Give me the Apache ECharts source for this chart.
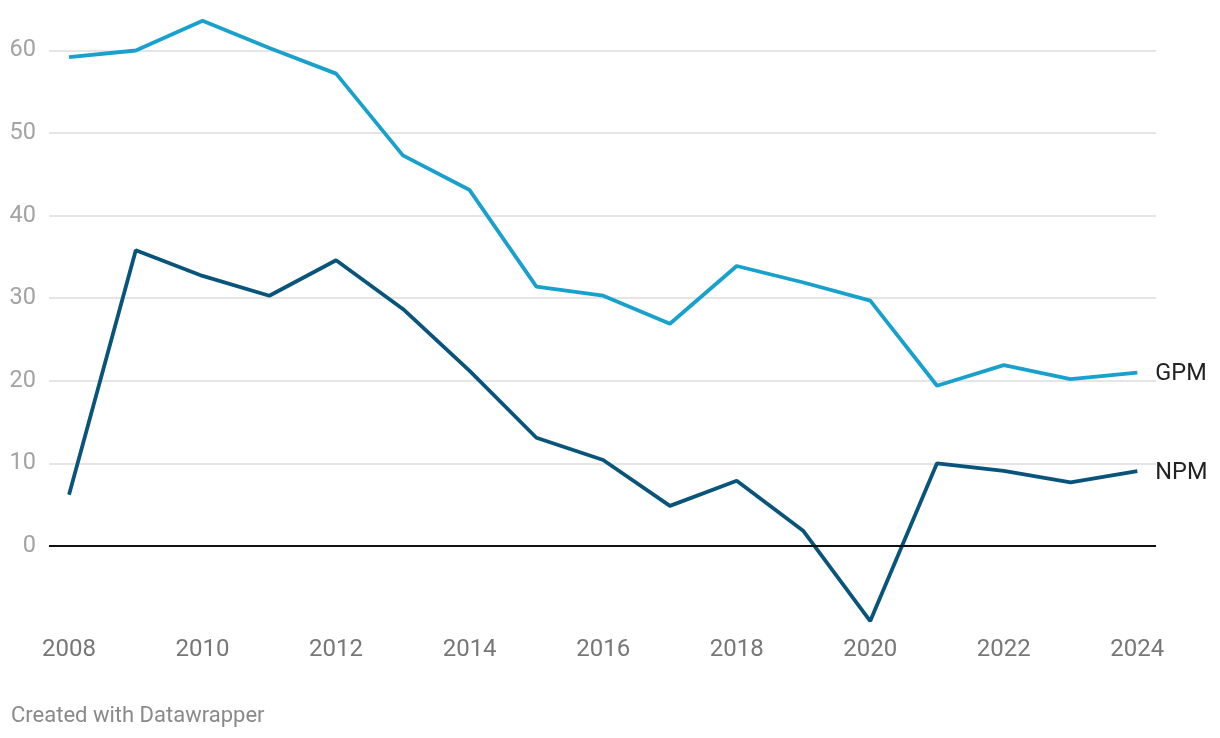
<!DOCTYPE html>
<html>
<head>
<meta charset="utf-8">
<script src="https://cdn.jsdelivr.net/npm/echarts@6/dist/echarts.min.js"></script>
<style>
html,body{margin:0;padding:0;background:#fff;}
#c{width:1220px;height:738px;}
#foot{position:absolute;left:11px;top:702px;font-family:Roboto,sans-serif;font-size:22px;color:#8a8a8a;}
</style>
</head>
<body>
<div id="c"></div>
<div id="foot">Created with Datawrapper</div>
<script>
const years = [2008,2009,2010,2011,2012,2013,2014,2015,2016,2017,2018,2019,2020,2021,2022,2023,2024];
const gpm = [59.2,60.0,63.6,60.3,57.2,47.3,43.1,31.4,30.3,26.9,33.9,31.9,29.7,19.4,21.9,20.2,21.0];
const npm = [6.2,35.8,32.7,30.3,34.6,28.7,21.2,13.1,10.4,4.85,7.9,1.8,-9.1,10.0,9.1,7.7,9.05];
const xTickLabels = [2008,2010,2012,2014,2016,2018,2020,2022,2024];
const yTickLabels = [0,10,20,30,40,50,60];

const chart = echarts.init(document.getElementById('c'), null, {renderer:'canvas'});
const pair = (arr) => years.map((y,i)=>[y,arr[i]]);
chart.setOption({
  animation:false,
  grid:{left:49,right:64,top:50.5,bottom:738-628.5,containLabel:false},
  xAxis:{
    type:'value',min:2007.7,max:2024.28,
    axisLine:{show:false},axisTick:{show:false},splitLine:{show:false},
    axisLabel:{customValues:xTickLabels,formatter:v=>String(v),color:'#777',fontFamily:'Roboto',fontSize:24,margin:9}
  },
  yAxis:{
    type:'value',min:-10,max:60,interval:10,
    axisLine:{show:false},axisTick:{show:false},
    axisLabel:{formatter:v=>yTickLabels.includes(v)?String(v):'',color:'#a3a3a3',fontFamily:'Roboto',fontSize:23.5,margin:13},
    splitLine:{show:true,lineStyle:{color:'#e5e5e5',width:2},
      showMinLine:false}
  },
  series:[
    {name:'GPM',type:'line',data:pair(gpm),symbol:'none',clip:false,
      lineStyle:{color:'#18a1cd',width:3.8},
      endLabel:{show:true,formatter:'GPM',color:'#222',fontFamily:'Roboto',fontSize:23.5,distance:18,offset:[0,2]},
      markLine:{silent:true,symbol:'none',label:{show:false},lineStyle:{color:'#111',width:2,type:'solid'},data:[{yAxis:0}]}
    },
    {name:'NPM',type:'line',data:pair(npm),symbol:'none',clip:false,
      lineStyle:{color:'#09547a',width:3.8},
      endLabel:{show:true,formatter:'NPM',color:'#222',fontFamily:'Roboto',fontSize:23.5,distance:18,offset:[0,2]}
    }
  ]
});
</script>
</body>
</html>
